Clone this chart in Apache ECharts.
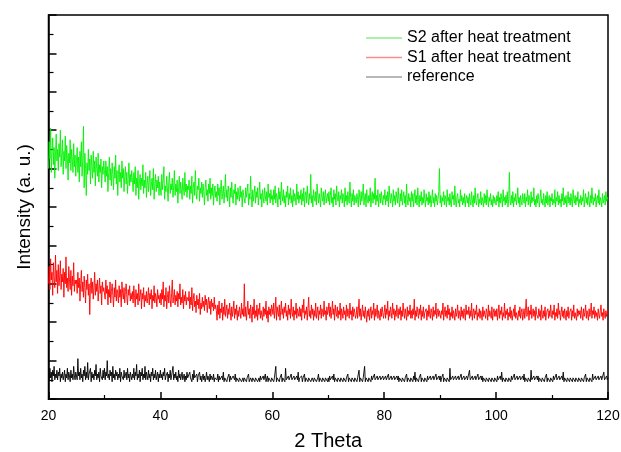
<!DOCTYPE html>
<html>
<head>
<meta charset="utf-8">
<script src="https://cdn.jsdelivr.net/npm/echarts@6/dist/echarts.min.js"></script>
<style>
html,body{margin:0;padding:0;background:#fff;}
#chart{width:621px;height:452px;}
</style>
</head>
<body>
<div id="chart"></div>
<script>
// x range of the scan (2 Theta), values sampled evenly across it
var xStart = 20;
var xEnd = 120;
var xTicks = [20, 40, 60, 80, 100, 120];
var seriesNames = ['S2 after heat treatment', 'S1 after heat treatment', 'reference'];

// Intensity (a. u.), scale 0..200 (one row = 5 degrees)
var s2 = [
120,134,125,141,118,129,136,122,131,115,127,138,124,130,119,133,126,140,121,128,135,117,129,124,137,120,132,126,114,128,123,135,119,130,125,118,133,121,127,116,
124,131,118,126,113,129,121,134,116,125,142,110,128,120,106,123,117,130,119,125,112,127,121,115,129,118,124,111,126,120,116,128,113,122,118,125,110,121,117,124,
119,113,124,116,121,108,118,126,114,120,111,123,117,109,121,115,127,112,119,106,117,122,113,118,110,124,115,120,108,116,121,112,118,107,115,123,111,117,113,119,
114,108,118,112,121,106,115,110,119,104,113,117,109,115,111,122,107,114,110,118,105,112,116,108,113,119,106,111,115,109,120,104,112,117,108,114,110,116,106,113,
112,106,117,109,114,121,104,111,108,116,110,103,113,118,107,112,109,115,105,111,119,106,112,108,114,102,110,116,107,113,109,104,115,110,106,118,108,112,105,111,
109,114,104,111,107,116,102,110,113,106,119,108,104,111,109,115,103,110,107,113,105,112,108,101,110,114,106,109,103,112,107,115,104,110,106,112,101,108,111,105,
108,103,112,106,110,101,109,114,104,107,111,102,108,117,105,109,103,111,107,100,110,105,113,106,102,109,107,112,101,108,104,110,106,103,111,105,108,100,109,106,
107,102,110,105,108,112,101,107,104,116,106,100,109,103,107,111,102,108,105,110,101,106,113,104,107,100,109,105,102,110,106,103,108,101,112,105,107,102,109,104,
106,101,109,104,111,102,107,105,100,110,104,108,101,113,106,103,109,102,106,100,108,105,111,101,107,104,110,102,106,100,109,103,107,105,101,112,104,108,102,106,
104,109,101,107,103,110,100,106,108,102,111,105,101,107,104,117,102,106,100,109,105,103,108,101,112,106,102,107,104,100,110,105,103,108,101,106,109,102,105,107,
103,108,101,106,110,102,105,100,109,104,107,101,111,105,103,108,100,106,104,109,102,107,105,100,110,103,106,101,108,104,102,113,105,100,107,103,109,101,106,104,
102,107,104,100,109,105,101,108,103,106,112,101,105,107,100,109,104,102,106,103,110,100,105,108,102,107,104,115,101,106,103,109,100,105,107,102,108,104,101,106,
104,109,101,106,103,108,100,111,105,102,107,104,100,109,103,106,101,108,105,102,110,104,100,107,103,109,101,105,108,102,106,100,112,104,101,107,103,105,100,108,
103,107,100,105,109,102,106,101,110,104,100,106,103,108,101,105,102,109,104,100,107,103,105,101,108,102,106,100,104,109,102,105,100,107,103,106,101,104,108,120,
102,106,100,105,103,108,101,106,104,100,109,103,105,101,107,102,100,108,104,106,101,111,103,100,105,107,102,104,100,109,103,106,101,105,102,107,100,104,106,102,
105,100,107,103,101,108,104,100,106,102,110,103,101,105,107,100,104,102,108,101,105,103,100,107,102,106,101,109,104,100,105,103,107,101,104,100,106,102,105,103,
101,106,103,108,100,105,102,107,104,100,109,103,105,101,106,102,108,100,104,118,103,101,106,102,108,100,105,103,107,101,104,110,102,105,100,106,103,101,107,104,
102,107,100,105,103,109,101,106,104,100,108,102,105,103,110,101,104,100,106,102,107,104,100,105,109,102,104,101,107,103,100,106,102,108,101,104,106,100,105,103,
107,101,104,102,109,100,105,103,108,101,106,102,104,100,107,103,110,101,105,102,106,100,104,108,102,105,101,107,103,100,109,104,102,106,101,105,103,108,100,104,
102,106,101,105,103,109,100,104,107,102,105,101,108,103,100,106,102,110,104,101,105,103,107,100,104,106,102,109,101,105,103,100,107,102,104,106,101,108,103,105,
104
];
var s1 = [
60,69,57,73,62,66,54,71,63,58,75,61,67,55,70,59,64,72,57,65,61,68,53,66,60,74,58,63,56,69,62,57,67,54,64,59,71,56,62,60,
62,55,66,58,63,51,60,67,56,61,53,64,58,50,62,57,65,54,60,44,59,63,55,61,52,58,66,54,60,56,62,51,57,63,55,59,49,61,56,58,
57,52,62,55,59,49,57,53,61,50,56,60,54,48,58,53,62,51,57,55,50,59,53,57,48,61,55,52,58,50,56,60,53,49,57,54,59,51,55,52,
56,50,59,53,48,57,52,55,49,60,51,54,57,47,55,52,58,48,54,51,56,50,53,58,49,55,52,57,47,54,51,59,50,55,53,48,57,52,54,50,
55,49,57,52,61,48,54,51,58,47,53,56,50,59,52,48,55,62,50,53,57,49,54,51,56,48,55,52,60,49,53,50,57,47,54,51,56,49,53,52,
51,56,47,53,49,58,46,52,55,48,51,45,54,49,52,47,55,44,50,47,53,48,51,46,54,49,52,45,50,53,47,51,44,52,48,50,46,53,47,49,
46,41,49,44,51,42,47,45,50,41,48,44,52,43,46,49,42,47,44,50,45,41,48,43,46,51,42,47,44,49,41,46,43,48,45,42,50,44,47,43,
60,43,48,41,46,51,44,47,42,49,45,40,48,44,52,42,46,43,49,41,47,44,50,42,46,45,41,48,43,47,44,51,42,46,40,48,44,47,43,49,
47,44,50,42,46,53,41,48,45,43,49,41,46,51,44,47,42,48,45,50,43,46,41,49,44,47,42,52,45,43,48,41,46,44,50,42,47,45,43,48,
43,47,41,49,45,52,42,46,44,48,41,47,53,43,46,42,49,44,47,41,46,43,50,42,45,48,41,46,44,49,42,47,45,43,51,44,46,41,48,44,
46,50,43,48,42,45,51,44,47,41,49,45,43,48,42,46,44,50,41,47,45,42,48,44,46,41,49,43,47,45,42,50,44,46,41,48,43,47,45,42,
44,48,42,46,52,43,47,41,45,49,43,46,42,48,44,40,46,43,47,41,45,48,42,46,44,50,41,47,43,45,49,42,46,44,41,47,43,48,45,42,
45,49,42,47,44,51,41,46,43,48,45,42,50,44,47,41,46,43,49,45,42,47,44,48,41,46,43,50,45,42,47,44,41,48,43,46,44,49,42,46,
42,47,44,52,41,46,43,48,45,42,47,44,49,41,46,43,48,42,45,44,47,41,46,43,49,44,42,47,45,41,48,43,46,44,50,42,45,47,43,46,
47,42,46,44,50,41,45,48,43,46,42,49,44,47,41,45,43,48,42,46,44,41,47,43,45,49,42,46,44,41,48,43,46,42,47,45,41,49,44,46,
44,48,42,46,43,50,41,45,47,42,46,44,49,41,45,43,47,42,46,44,41,48,43,46,44,42,47,45,41,49,43,46,44,42,48,41,45,47,43,46,
43,47,41,45,49,42,46,44,48,41,45,43,50,42,46,44,47,41,45,43,48,42,46,41,44,47,43,49,42,45,44,41,46,43,48,42,45,47,41,44,
47,42,46,52,43,45,48,41,46,44,49,42,45,47,43,46,41,48,44,45,42,47,43,46,41,49,44,42,46,43,48,41,45,44,47,42,46,43,49,44,
42,46,44,49,41,45,43,47,42,50,44,46,41,45,48,43,46,42,47,44,41,46,43,48,42,45,44,47,41,46,43,49,42,45,44,41,47,43,46,44,
46,42,48,44,41,47,43,45,49,42,46,44,41,47,43,45,50,42,46,44,48,42,46,43,45,41,47,44,42,46,49,43,45,41,47,44,42,46,43,45,
47
];
var ref = [
13,10,16,11,14,9,15,12,17,10,13,11,15,10,14,12,16,9,13,11,14,10,12,15,9,13,11,16,10,14,12,9,15,11,13,10,17,12,10,14,
15,10,21,12,14,10,16,11,13,9,15,12,17,10,14,11,19,10,13,12,16,9,14,11,13,10,15,12,18,10,13,11,14,9,16,12,13,10,15,11,
16,10,14,12,20,11,13,10,15,12,14,9,17,11,13,10,15,12,14,10,13,11,16,9,14,12,13,10,15,11,12,14,10,16,11,13,9,14,12,10,
13,11,16,10,14,12,18,10,13,11,15,9,14,12,16,10,13,11,17,10,14,12,10,15,11,13,9,14,12,16,10,13,11,15,10,12,14,9,13,11,
15,11,13,10,14,12,16,10,12,11,14,9,13,11,15,10,12,11,17,10,13,11,14,10,12,9,15,11,13,10,12,14,10,11,13,9,12,10,14,11,
12,10,14,11,12,9,13,10,15,11,12,10,13,9,12,11,14,10,12,9,11,13,10,12,9,11,14,10,12,11,9,13,10,12,11,10,13,9,11,10,
11,10,13,9,12,10,11,9,12,10,14,9,11,10,12,9,11,10,13,9,12,10,11,9,12,11,10,13,9,11,10,12,9,11,10,12,9,10,11,9,
11,10,12,9,11,10,13,9,10,11,12,9,11,10,12,9,11,10,12,9,10,11,9,12,10,11,9,12,10,11,13,9,10,12,9,11,10,12,9,11,
10,12,9,11,10,17,9,11,10,12,9,11,10,13,9,11,10,12,9,16,10,11,9,12,10,11,9,13,10,11,9,12,10,11,9,12,10,14,9,11,
11,10,12,9,11,10,13,9,11,10,12,9,11,10,12,9,10,11,12,9,11,10,12,9,10,11,13,9,11,10,12,9,11,10,12,9,11,10,12,9,
11,9,12,10,11,9,12,10,13,9,11,10,12,9,11,10,12,9,11,10,12,9,11,10,12,9,11,10,13,9,11,10,12,9,11,10,12,9,11,10,
12,9,11,10,15,9,11,10,12,9,11,10,17,9,11,10,12,9,11,10,11,9,12,10,11,9,13,10,11,9,12,10,11,9,12,10,11,9,12,10,
11,9,12,10,11,9,13,10,11,9,12,10,11,9,12,10,11,9,12,10,12,9,11,10,12,9,11,10,12,9,11,10,13,9,11,10,12,9,11,10,
11,9,12,10,14,9,11,10,12,9,11,10,13,9,11,10,12,9,11,10,11,9,12,10,11,9,12,10,11,9,12,10,11,9,13,10,11,9,12,10,
12,9,11,10,13,9,11,10,12,9,11,10,12,9,16,10,11,9,12,10,11,9,12,10,11,9,12,10,11,9,13,10,11,9,12,10,11,9,12,10,
11,9,15,10,11,9,12,10,11,9,12,10,11,9,13,10,11,9,12,10,12,9,11,10,12,9,11,10,12,9,11,10,12,9,11,10,12,9,11,10,
11,9,12,10,11,9,12,10,14,9,11,10,12,9,11,10,12,9,11,10,11,9,12,10,11,9,13,10,11,9,12,10,11,9,12,10,11,9,12,10,
13,9,11,10,12,9,11,10,12,9,15,10,11,9,12,10,11,9,12,10,12,9,11,10,12,9,11,10,12,9,11,10,13,9,11,10,12,9,11,10,
11,9,12,10,11,9,13,10,11,9,12,10,11,9,12,10,14,9,11,10,12,9,11,10,12,9,11,10,12,9,11,10,12,9,11,10,12,9,11,10,
12,9,11,10,12,9,11,10,13,9,11,10,12,9,11,10,12,9,13,10,11,9,12,10,11,9,12,10,11,9,12,10,11,9,14,10,11,9,12,10,
11
];

function pairs(vals) {
  var n = vals.length, out = [];
  for (var i = 0; i < n; i++) {
    out.push([xStart + i * (xEnd - xStart) / (n - 1), vals[i]]);
  }
  return out;
}

var chart = echarts.init(document.getElementById('chart'), null, {renderer: 'canvas'});
var font = '"Liberation Sans", Arial, sans-serif';
chart.setOption({
  animation: false,
  backgroundColor: '#ffffff',
  textStyle: {fontFamily: font},
  grid: {left: 48.5, right: 13, top: 15, bottom: 53, show: true, borderColor: '#000', borderWidth: 1.5,
    backgroundColor: 'transparent', containLabel: false, outerBoundsMode: 'none'},
  legend: {
    orient: 'vertical', left: 366, top: 29, padding: 0, itemWidth: 36, itemHeight: 1.5, itemGap: 1.5,
    icon: 'rect',
    data: [
      {name: seriesNames[0], itemStyle: {color: '#8eee8e'}},
      {name: seriesNames[1], itemStyle: {color: '#ff8c8c'}},
      {name: seriesNames[2], itemStyle: {color: '#a0a0a0'}}
    ],
    textStyle: {fontSize: 16, lineHeight: 18, color: '#000', fontFamily: font}
  },
  xAxis: {
    type: 'value', min: xStart, max: xEnd, interval: 20,
    axisLine: {show: true, onZero: false, lineStyle: {color: '#000', width: 1.5}},
    axisTick: {show: true, inside: true, length: 7, lineStyle: {color: '#000', width: 1.5}},
    minorTick: {show: true, splitNumber: 2, length: 4, lineStyle: {color: '#000', width: 1.2}},
    splitLine: {show: false},
    axisLabel: {color: '#000', fontSize: 14, margin: 10, fontFamily: font,
      formatter: function (v) { return xTicks.indexOf(v) >= 0 ? String(v) : ''; }},
    name: '2 Theta', nameLocation: 'middle', nameGap: 32,
    nameTextStyle: {color: '#000', fontSize: 20, fontFamily: font}
  },
  yAxis: {
    type: 'value', min: 0, max: 200, interval: 20,
    axisLine: {show: true, lineStyle: {color: '#000', width: 1.5}},
    axisTick: {show: true, inside: true, length: 8, lineStyle: {color: '#000', width: 1.5}},
    minorTick: {show: true, splitNumber: 2, length: 5, lineStyle: {color: '#000', width: 1.2}},
    splitLine: {show: false},
    axisLabel: {show: false},
    name: 'Intensity (a. u.)', nameLocation: 'middle', nameGap: 14,
    nameTextStyle: {color: '#000', fontSize: 19, fontFamily: font}
  },
  series: [
    {name: seriesNames[0], type: 'line', data: pairs(s2), showSymbol: false, symbol: 'none',
      color: '#00f000', lineStyle: {width: 0.9, color: '#00f000'}},
    {name: seriesNames[1], type: 'line', data: pairs(s1), showSymbol: false, symbol: 'none',
      color: '#ff0000', lineStyle: {width: 0.9, color: '#ff0000'}},
    {name: seriesNames[2], type: 'line', data: pairs(ref), showSymbol: false, symbol: 'none',
      color: '#000000', lineStyle: {width: 0.9, color: '#000000'}}
  ]
});
</script>
</body>
</html>
